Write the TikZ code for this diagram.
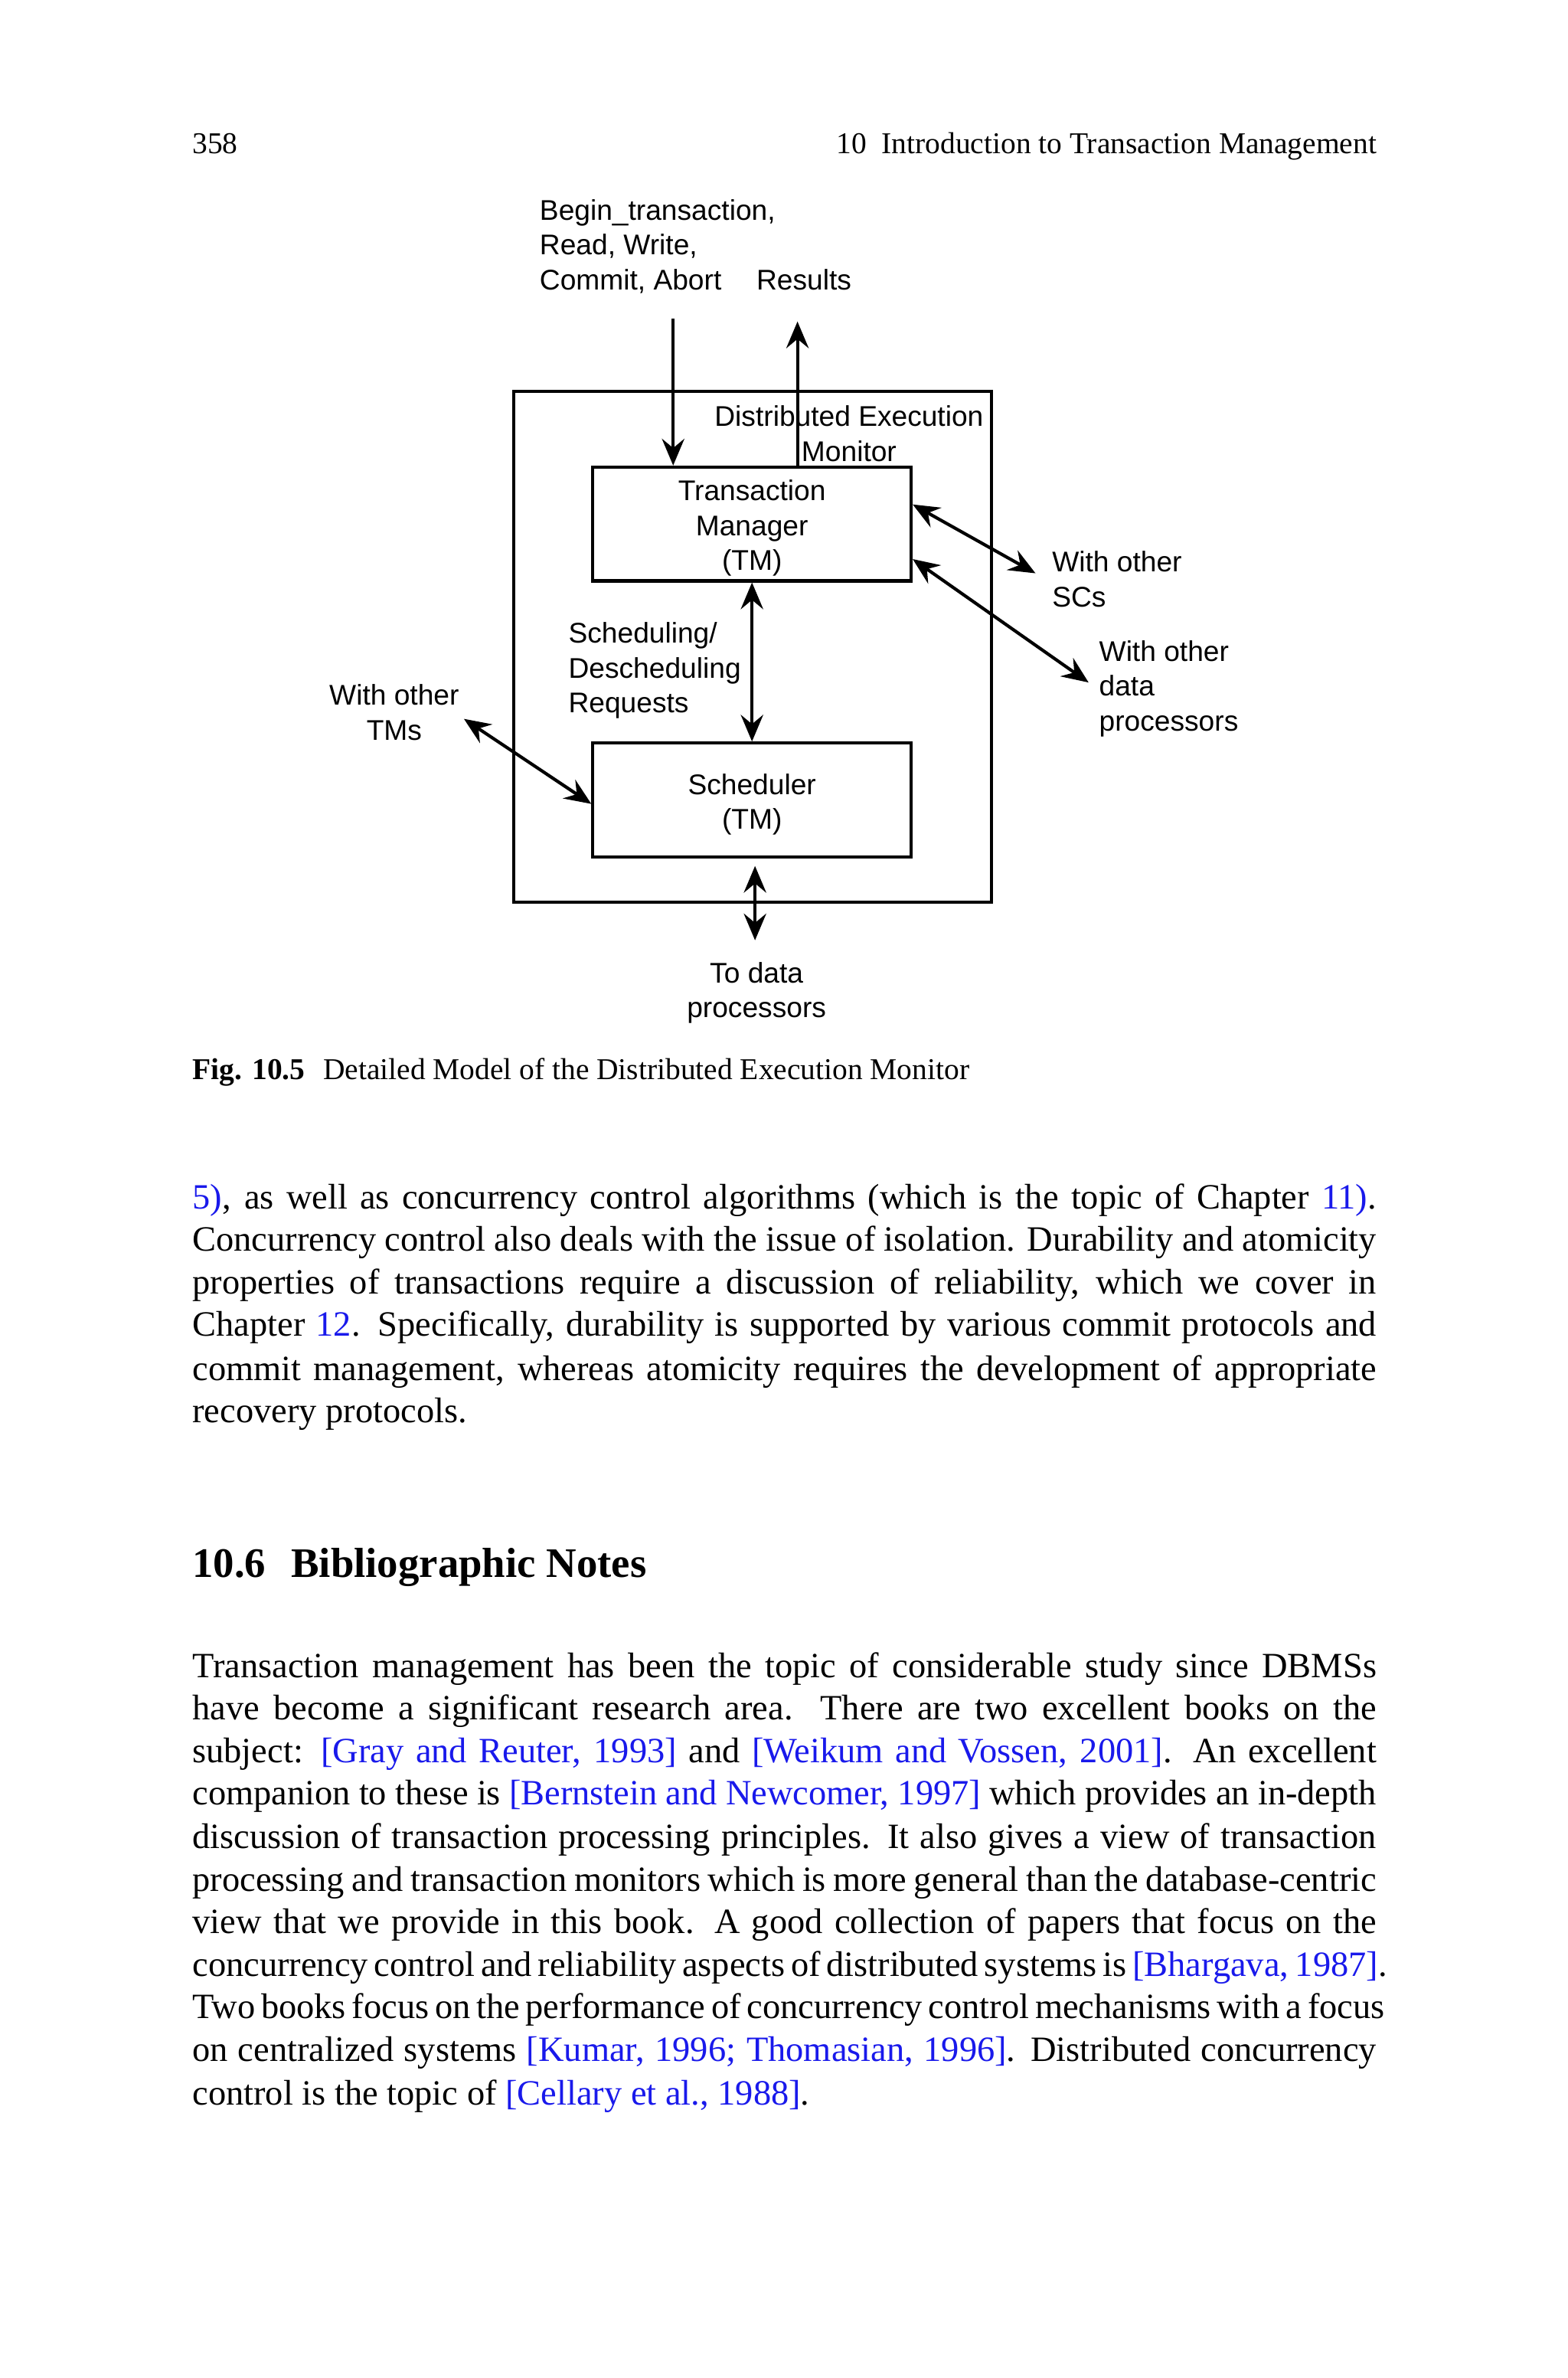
\documentclass[tikz,border=0pt]{standalone}
\usepackage{fontspec}
\setmainfont{Liberation Serif}
\newfontfamily\diagfont{Liberation Sans}
\usetikzlibrary{arrows.meta,calc}
\definecolor{citeblue}{RGB}{25,25,235}
\newcommand{\cb}[1]{\textcolor{citeblue}{#1}}
\newcommand{\jline}[1]{\makebox[333pt][s]{#1}}
\newcommand{\topstrut}{\rule{0pt}{8.2pt}}
\begin{document}
\begin{tikzpicture}[x=0.4264pt,y=-0.4264pt,
  txt/.style={inner sep=0pt, outer sep=0pt},
  body/.style={txt, anchor=base west, font=\fontsize{10}{12}\selectfont},
  small/.style={txt, font=\fontsize{8.5}{10}\selectfont},
  dlabel/.style={txt, font=\diagfont\fontsize{8}{9.8}\selectfont},
  compbox/.style={draw, line width=0.9pt, inner sep=0pt, minimum width=89.5pt, minimum height=32pt, align=center, font=\diagfont\fontsize{8}{9.8}\selectfont},
  tip/.tip={Stealth[length=7.5pt,width=6.3pt,inset=2.6pt]},
  arr/.style={line width=0.9pt, -tip},
  dbl/.style={line width=0.9pt, tip-tip}]
\fill[white] (0,0) rectangle (1034.2,1568);
\useasboundingbox (0,0) rectangle (1034.2,1568);

% running head
\node[small, anchor=base west] (pagenum) at (127,101) {358};
\node[small, anchor=base east] (runhead) at (908,101) {10\hspace{0.5em}Introduction to Transaction Management};

% diagram
\node[draw, line width=0.9pt, minimum width=134.3pt, minimum height=143.7pt, inner sep=0pt] (dem) at (496.5,426.5) {};
\node[compbox] (tm) at (496,345.5) {\topstrut Transaction\\Manager\\(TM)};
\node[compbox] (sch) at (496,527.5) {\topstrut Scheduler\\(TM)};

\node[dlabel, anchor=base west, align=left] (inlab) at (356,191) {Begin\_transaction,\\Read, Write,\\Commit, Abort};
\node[dlabel, anchor=base west] (reslab) at (499,191) {Results};
\node[dlabel, anchor=base, align=center] (demlab) at (560,304) {Distributed Execution\\Monitor};
\node[dlabel, anchor=base west, align=left] (schedlab) at (375,470) {Scheduling/\\Descheduling\\Requests};
\node[dlabel, anchor=base west, align=left] (sclab) at (694,400) {With other\\SCs};
\node[dlabel, anchor=base west, align=left] (dplab) at (725,482) {With other\\data\\processors};
\node[dlabel, anchor=base, align=center] (tmslab) at (260,488) {With other\\TMs};
\node[dlabel, anchor=base, align=center] (todplab) at (499,671) {To data\\processors};

\coordinate (inTop) at (444,210);
\coordinate (resTop) at (526,212);
\coordinate (scEnd) at (683,378);
\coordinate (dpEnd) at (718,450);
\coordinate (tmsEnd) at (306,474);
\coordinate (botTop) at (498,571);
\coordinate (botEnd) at (498,620);

\draw[arr] (inTop) -- (inTop |- tm.north);
\draw[arr] (resTop |- tm.north) -- (resTop);
\draw[dbl] (tm.south) -- (sch.north);
\draw[dbl] ($(tm.north east)!0.333!(tm.south east)$) -- (scEnd);
\draw[dbl] ($(tm.north east)!0.8!(tm.south east)$) -- (dpEnd);
\draw[dbl] (tmsEnd) -- ($(sch.north west)!0.533!(sch.south west)$);
\draw[dbl] (botTop) -- (botEnd);

% caption
\node[small, anchor=base west] (caption) at (127,712) {\textbf{Fig. 10.5}\hspace{0.6em}Detailed Model of the Distributed Execution Monitor};

% paragraph 1
\node[body] (p1a) at (127,797) {\jline{\cb{5)}, as well as concurrency control algorithms (which is the topic of Chapter \cb{11)}.}};
\node[body] (p1b) at (127,825) {\jline{Concurrency control also deals with the issue of isolation. Durability and atomicity}};
\node[body] (p1c) at (127,853) {\jline{properties of transactions require a discussion of reliability, which we cover in}};
\node[body] (p1d) at (127,881) {\jline{Chapter \cb{12}. Specifically, durability is supported by various commit protocols and}};
\node[body] (p1e) at (127,910) {\jline{commit management, whereas atomicity requires the development of appropriate}};
\node[body] (p1f) at (127,938) {recovery protocols.};

% section heading
\node[txt, anchor=base west, font=\fontsize{11.8}{14}\selectfont\bfseries] (sec) at (127,1040) {10.6\hspace{0.6em}Bibliographic Notes};

% paragraph 2
\node[body] (p2a) at (127,1106) {\jline{Transaction management has been the topic of considerable study since DBMSs}};
\node[body] (p2b) at (127,1134) {\jline{have become a significant research area. There are two excellent books on the}};
\node[body] (p2c) at (127,1162) {\jline{subject: \cb{[Gray and Reuter, 1993]} and \cb{[Weikum and Vossen, 2001]}. An excellent}};
\node[body] (p2d) at (127,1190) {\jline{companion to these is \cb{[Bernstein and Newcomer, 1997]} which provides an in-depth}};
\node[body] (p2e) at (127,1219) {\jline{discussion of transaction processing principles. It also gives a view of transaction}};
\node[body] (p2f) at (127,1247) {\jline{processing and transaction monitors which is more general than the database-centric}};
\node[body] (p2g) at (127,1275) {\jline{view that we provide in this book. A good collection of papers that focus on the}};
\node[body] (p2h) at (127,1303) {\jline{concurrency control and reliability aspects of distributed systems is \cb{[Bhargava, 1987]}.}};
\node[body] (p2i) at (127,1331) {\jline{Two books focus on the performance of concurrency control mechanisms with a focus}};
\node[body] (p2j) at (127,1359) {\jline{on centralized systems \cb{[Kumar, 1996; Thomasian, 1996]}. Distributed concurrency}};
\node[body] (p2k) at (127,1388) {control is the topic of \cb{[Cellary et al., 1988]}.};
\end{tikzpicture}
\end{document}
